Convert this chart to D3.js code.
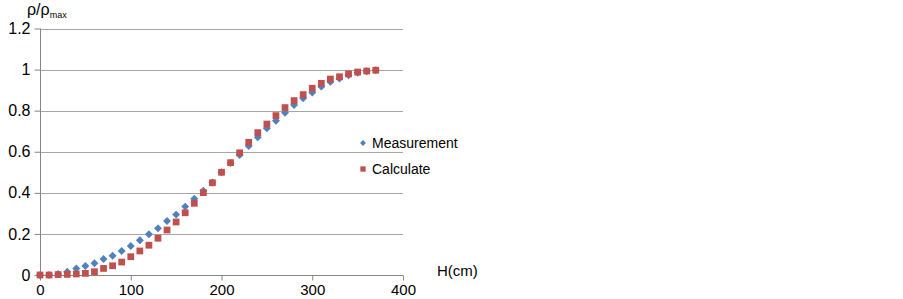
<!DOCTYPE html>
<html>
<head>
<meta charset="utf-8">
<script src="https://cdn.jsdelivr.net/npm/d3@7"></script>
<style>
  body { margin: 0; background: #fff; }
  text { font-family: "Liberation Sans", Arial, sans-serif; fill: #000; }
</style>
</head>
<body>
<div id="chart"></div>
<script>
// heights H (cm)
const H = d3.range(0, 371, 10);
const measurement = [0, 0, 0.005, 0.016, 0.032, 0.044, 0.057, 0.078, 0.094, 0.117,
  0.141, 0.169, 0.198, 0.227, 0.263, 0.294, 0.333, 0.371, 0.41, 0.45,
  0.5, 0.545, 0.584, 0.628, 0.670, 0.714, 0.751, 0.790, 0.828, 0.860,
  0.888, 0.917, 0.94, 0.956, 0.972, 0.985, 0.992, 0.997];
const calculate = [0, 0, 0.002, 0.003, 0.005, 0.008, 0.016, 0.032, 0.045, 0.063,
  0.089, 0.117, 0.145, 0.179, 0.219, 0.258, 0.303, 0.349, 0.401, 0.449,
  0.5, 0.547, 0.595, 0.646, 0.693, 0.735, 0.776, 0.815, 0.849, 0.878,
  0.909, 0.933, 0.954, 0.965, 0.979, 0.988, 0.993, 0.997];
const xTicks = [0, 100, 200, 300, 400];
const yTicks = [0, 0.2, 0.4, 0.6, 0.8, 1, 1.2];
const seriesNames = ["Measurement", "Calculate"];

const width = 903, height = 299;
const blue = "#4f81bd", red = "#c0504d";

const svg = d3.select("#chart").append("svg")
  .attr("width", width)
  .attr("height", height);

const x = d3.scaleLinear().domain([0, 400]).range([40, 403]);
const y = d3.scaleLinear().domain([0, 1.2]).range([275, 28.5]);

// gridlines
svg.append("g")
  .selectAll("line")
  .data(yTicks.filter(d => d > 0))
  .enter().append("line")
  .attr("x1", x(0)).attr("x2", x(400))
  .attr("y1", d => Math.round(y(d)) + 0.5)
  .attr("y2", d => Math.round(y(d)) + 0.5)
  .attr("stroke", "#a6a6a6")
  .attr("stroke-width", 1);

// y axis
const yAxis = svg.append("g")
  .attr("transform", `translate(${x(0) + 0.5},0)`)
  .call(d3.axisLeft(y).tickValues(yTicks).tickSize(6).tickPadding(4)
    .tickFormat(d => d3.format("~g")(d)));
yAxis.selectAll("path, line").attr("stroke", "#868686");
yAxis.select(".domain").attr("d", `M0,${y(1.2)}V${y(0)}`);
yAxis.selectAll("text").style("font-size", "16px").style("font-family", "Liberation Sans, Arial, sans-serif").attr("fill", "#000");

// x axis
const xAxis = svg.append("g")
  .attr("transform", `translate(0,${Math.round(y(0)) + 0.5})`)
  .call(d3.axisBottom(x).tickValues(xTicks).tickSize(5).tickPadding(4));
xAxis.selectAll("path, line").attr("stroke", "#868686");
xAxis.select(".domain").attr("d", `M${x(0)},0H${x(400)}`);
xAxis.selectAll("text").style("font-size", "15px").style("font-family", "Liberation Sans, Arial, sans-serif").attr("fill", "#000");

// axis titles
const yt = svg.append("text").attr("x", 27).attr("y", 15).style("font-size", "16px");
yt.append("tspan").text("ρ/ρ");
yt.append("tspan").attr("dy", 3).style("font-size", "9px").text("max");

svg.append("text").attr("x", 437).attr("y", 276).style("font-size", "15px").text("H(cm)");

const diamond = d3.symbol().type(d3.symbolDiamond2);
const square = d3.symbol().type(d3.symbolSquare2);

// Calculate series drawn after measurement so it sits on top
svg.append("g")
  .selectAll("path")
  .data(H.map((h, i) => [h, measurement[i]]))
  .enter().append("path")
  .attr("d", diamond.size(40))
  .attr("transform", d => `translate(${x(d[0])},${y(d[1])})`)
  .attr("fill", blue);

svg.append("g")
  .selectAll("path")
  .data(H.map((h, i) => [h, calculate[i]]))
  .enter().append("path")
  .attr("d", square.size(58))
  .attr("transform", d => `translate(${x(d[0])},${y(d[1])})`)
  .attr("fill", red);

// legend
const legend = svg.append("g");
legend.append("path")
  .attr("d", d3.symbol().type(d3.symbolDiamond2).size(22)())
  .attr("transform", "translate(363,143)")
  .attr("fill", blue);
legend.append("text").attr("x", 372).attr("y", 148).style("font-size", "14px").text(seriesNames[0]);
legend.append("path")
  .attr("d", d3.symbol().type(d3.symbolSquare2).size(36)())
  .attr("transform", "translate(363,169)")
  .attr("fill", red);
legend.append("text").attr("x", 372).attr("y", 174).style("font-size", "14px").text(seriesNames[1]);
</script>
</body>
</html>
